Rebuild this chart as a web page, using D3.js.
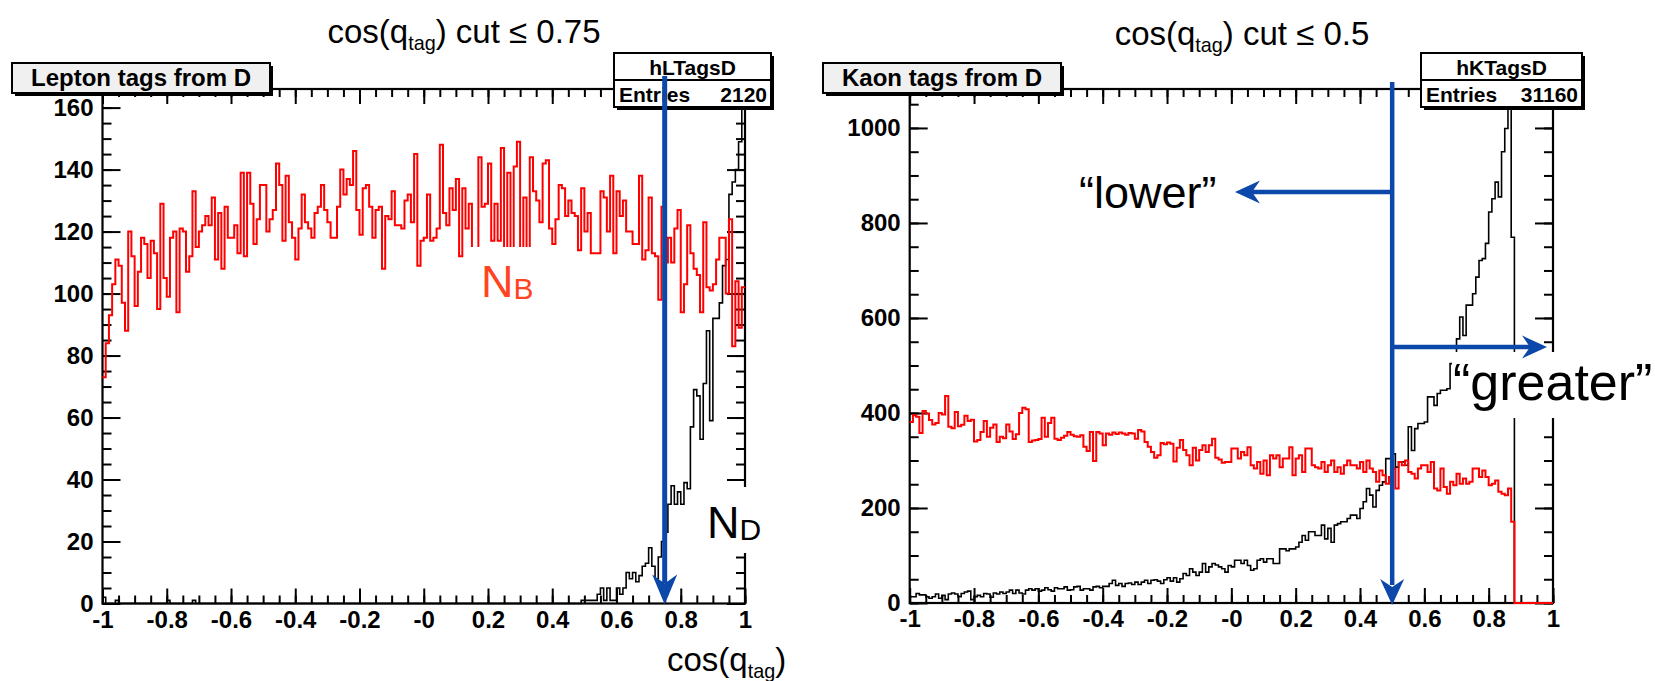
<!DOCTYPE html>
<html>
<head>
<meta charset="utf-8">
<script src="https://cdn.jsdelivr.net/npm/d3@7"></script>
<style>
  body { margin: 0; background: #fff; }
  svg text { font-family: "Liberation Sans", Arial, Helvetica, sans-serif; }
</style>
</head>
<body>
<div id="chart"></div>
<script>
var svgWidth = 1655;
var svgHeight = 681;

// 200 bins of width 0.01 on [-1, 1]
var binLow = -1;
var binWidth = 0.01;

var xTickValues = [-1, -0.8, -0.6, -0.4, -0.2, 0, 0.2, 0.4, 0.6, 0.8, 1];
var xTickLabels = ["-1", "-0.8", "-0.6", "-0.4", "-0.2", "-0", "0.2", "0.4", "0.6", "0.8", "1"];
var leptonYTicks = [0, 20, 40, 60, 80, 100, 120, 140, 160];
var kaonYTicks = [0, 200, 400, 600, 800, 1000];

// lepton tags: background from B (red)
var leptonB = [
  73, 84, 93, 103, 111, 109, 97, 88, 120, 112,
  96, 107, 118, 116, 105, 117, 113, 95, 129, 105,
  99, 118, 120, 94, 121, 120, 107, 112, 133, 115,
  120, 122, 125, 122, 131, 111, 126, 108, 128, 118,
  118, 122, 113, 139, 112, 139, 129, 116, 124, 135,
  135, 120, 124, 127, 142, 135, 117, 138, 123, 118,
  111, 121, 132, 123, 121, 118, 126, 128,
  135, 127, 123, 118, 118, 128, 140, 132, 137, 135, 146,
  127, 119, 134, 135, 128, 118, 127, 128, 108, 125,
  124, 133, 122, 122, 121, 130, 132, 123, 145, 109,
  117, 118, 132, 117, 118, 121, 148, 126, 122, 134,
  127, 137, 112, 134, 121, 129, 110, 110, 144, 128,
  129, 142, 117, 129, 117, 147, 112, 139, 112, 141,
  149, 112, 131, 112, 144, 133, 130,
  123, 142, 143, 121, 116, 124, 135, 134, 125, 130,
  126, 125, 114, 134, 120, 126, 113, 113, 113, 133,
  131, 120, 138, 113, 133, 125, 130, 120, 120, 116,
  116, 138, 111, 114, 131, 113, 112, 98, 128, 110,
  118, 110, 121, 127, 94, 103, 122, 113, 108, 106,
  94, 123, 102, 101, 103, 111, 118, 118, 100, 124,
  83, 104, 89, 102
];

// lepton tags: from D (black)
var leptonD = [
  2, 0, 0, 0, 1, 0, 0, 0, 0, 0, 0, 0, 0, 0, 0, 0, 0, 0, 0, 0,
  1, 0, 0, 0, 0, 0, 0, 0, 1, 0, 0, 0, 0, 0, 0, 0, 0, 0, 0, 0,
  0, 0, 0, 0, 0, 0, 0, 0, 0, 0, 0, 0, 0, 0, 0, 0, 0, 0, 0, 0,
  0, 0, 0, 0, 0, 0, 0, 0, 0, 0, 0, 0, 0, 0, 0, 0, 0, 0, 0, 0,
  0, 0, 0, 0, 0, 0, 0, 0, 0, 0, 0, 0, 0, 0, 0, 0, 0, 0, 0, 0,
  0, 0, 0, 0, 0, 0, 0, 0, 0, 0, 0, 0, 0, 0, 0, 0, 0, 0, 0, 0,
  0, 0, 0, 0, 0, 0, 0, 0, 0, 0, 0, 0, 0, 0, 0, 0, 0, 0, 0, 0,
  0, 0, 0, 0, 0, 0, 0, 0, 0, 1,
  1, 1, 1, 1, 3, 5, 1, 5, 1, 1,
  5, 3, 5, 10, 8, 10, 7, 9, 12, 13,
  18, 12, 8, 15, 20, 23, 32, 38, 32, 36,
  32, 39, 37, 57, 69, 67, 53, 71, 88, 59,
  92, 92, 97, 109, 111, 132, 136, 140, 149, 160
];

// kaon tags: background from B (red)
var kaonB = [
  381, 395, 392, 358, 404, 399, 385, 376, 379, 400,
  397, 436, 371, 368, 402, 372, 375, 394, 383, 386,
  340, 343, 360, 383, 350, 369, 376, 339, 350, 347,
  376, 361, 345, 355, 400, 411, 408, 339, 342, 343,
  345, 390, 350, 379, 390, 346, 343, 348, 352, 360,
  354, 351, 350, 353, 329, 320, 360, 299, 360, 357,
  332, 357, 354, 359, 356, 359, 357, 354, 358, 357,
  346, 364, 361, 339, 329, 318, 306, 311, 337, 334,
  338, 335, 298, 327, 343, 322, 311, 290, 327, 300,
  322, 332, 318, 332, 346, 306, 302, 295,
  297, 297, 325, 325, 304, 318, 311, 328, 290, 283,
  297, 272, 300, 269, 311, 304, 311, 286, 304, 304, 328,
  269, 304, 311, 276, 325, 325, 290, 286, 283, 297,
  276, 290, 300, 276, 286, 272, 290, 300, 290, 290, 283,
  297, 276, 300, 283, 276, 255, 279, 269, 251, 265,
  283, 241, 297, 290, 300, 276, 272, 262, 283, 290, 290,
  276, 297, 241, 237, 283, 244, 230, 255, 248, 272,
  251, 262, 251, 255, 283, 283, 265, 279, 265, 248, 251,
  258, 234, 230, 227, 241, 171,
  0, 0, 0, 0, 0, 0, 0, 0, 0, 0, 0, 0
];

// kaon tags: from D (black)
var kaonD = [
  13, 13, 20, 17, 17, 13, 10, 13, 19, 10,
  16, 7, 19, 21, 19, 13, 20, 23, 25, 7,
  13, 16, 13, 20, 19, 12, 21, 19, 23, 20,
  23, 27, 20, 27, 21, 19, 27, 30, 27, 30,
  25, 27, 32, 28, 25, 32, 30, 30, 34, 27,
  28, 34, 35, 27, 30, 30, 27, 34, 35, 32,
  35, 35, 41, 48, 37, 41, 35, 41, 42, 39,
  44, 39, 44, 48, 41, 48, 49, 46, 41, 49,
  53, 46, 53, 44, 51, 62, 58, 72, 65, 58,
  65, 83, 65, 76, 83, 80, 76, 72,
  65, 79, 76, 90, 90, 83, 90, 79, 69, 72,
  90, 93, 86, 93, 93, 83, 83, 114, 114, 110,
  114, 114, 118, 128, 142, 132, 150, 150, 142, 142,
  164, 135, 157, 128, 164, 167, 171, 171, 178, 185,
  185, 178, 199, 213, 241, 227, 202, 237, 248, 255,
  304, 304, 314, 286, 297, 297, 290, 371, 321, 367,
  378, 378, 381, 434, 434, 416, 441, 448, 448, 451,
  504, 493, 556, 602, 563, 627, 627, 651, 686, 721,
  725, 757, 823, 851, 886, 855, 950, 999, 1200, 770,
  0, 0, 0, 0, 0, 0, 0, 0, 0, 0, 0, 0
];

var blue = "#0c47aa";
var nbColor = "#ff4422";

var panels = [
  {
    id: "lep", left: 102.5, right: 745, top: 89, bottom: 603.5,
    yMax: 166, yTicks: leptonYTicks, yMinor: 5,
    red: leptonB, black: leptonD,
    name: "Lepton tags from D", nameBox: [12, 63, 258, 30],
    stat: "hLTagsD", entries: "2120", statBox: [614, 53, 157, 54],
    titleX: 464, titleY: 43, cut: "0.75"
  },
  {
    id: "kaon", left: 909.7, right: 1553, top: 89, bottom: 603,
    yMax: 1082, yTicks: kaonYTicks, yMinor: 50,
    red: kaonB, black: kaonD,
    name: "Kaon tags from D", nameBox: [823, 63, 238, 30],
    stat: "hKTagsD", entries: "31160", statBox: [1421, 53, 161, 54],
    titleX: 1242, titleY: 45, cut: "0.5"
  }
];

var svg = d3.select("#chart")
  .append("svg")
  .attr("width", svgWidth)
  .attr("height", svgHeight);

svg.append("rect")
  .attr("width", svgWidth)
  .attr("height", svgHeight)
  .attr("fill", "#fff");

// histogram outline as a step line, ROOT style
function stepPath(values, x, y) {
  var d = "M" + x(binLow) + "," + y(values[0]);
  values.forEach(function(v, i) {
    d += "V" + y(v) + "H" + x(binLow + (i + 1) * binWidth);
  });
  return d;
}

function styleAxis(sel, showText) {
  sel.select(".domain").remove();
  sel.selectAll(".tick line").attr("stroke", "#000").attr("stroke-width", 2);
  sel.selectAll(".tick text")
    .attr("font-family", "'Liberation Sans', Arial, sans-serif")
    .attr("font-size", 24)
    .attr("font-weight", "bold")
    .attr("fill", "#000");
  if (!showText) sel.selectAll(".tick text").remove();
}

// text with subscript: cos(q_tag) ...
function cosText(sel, x, y, size, rest, anchor) {
  var t = sel.append("text")
    .attr("x", x)
    .attr("y", y)
    .attr("font-size", size)
    .attr("text-anchor", anchor)
    .attr("fill", "#000");
  t.append("tspan").text("cos(q");
  t.append("tspan").attr("font-size", size * 0.6).attr("dy", size * 0.2).text("tag");
  t.append("tspan").attr("dy", -size * 0.2).text(")" + rest);
  return t;
}

function arrowHead(g, tx, ty, dir, len, half, notch) {
  // dir: unit vector pointing where the arrow points
  var px = -dir[1], py = dir[0];
  var bx = tx - dir[0] * len, by = ty - dir[1] * len;
  var nx = tx - dir[0] * (len - notch), ny = ty - dir[1] * (len - notch);
  g.append("path")
    .attr("d", "M" + tx + "," + ty +
      "L" + (bx + px * half) + "," + (by + py * half) +
      "L" + nx + "," + ny +
      "L" + (bx - px * half) + "," + (by - py * half) + "Z")
    .attr("fill", blue);
}

panels.forEach(function(p) {
  var x = d3.scaleLinear().domain([-1, 1]).range([p.left, p.right]);
  var y = d3.scaleLinear().domain([0, p.yMax]).range([p.bottom, p.top]);
  var g = svg.append("g");

  // axes, ticks inside the frame on all four sides
  var xMinor = d3.range(-1, 1.001, 0.05);
  var yMinor = d3.range(0, p.yMax, p.yMinor);

  g.append("g").attr("transform", "translate(0," + p.bottom + ")")
    .call(d3.axisBottom(x).tickValues(xMinor).tickSize(-8).tickFormat(""))
    .call(styleAxis, false);
  g.append("g").attr("transform", "translate(0," + p.bottom + ")")
    .call(d3.axisBottom(x).tickValues(xTickValues).tickSize(-15).tickPadding(7)
      .tickFormat(function(d, i) { return xTickLabels[i]; }))
    .call(styleAxis, true);
  g.append("g").attr("transform", "translate(0," + p.top + ")")
    .call(d3.axisTop(x).tickValues(xMinor).tickSize(-8).tickFormat(""))
    .call(styleAxis, false);
  g.append("g").attr("transform", "translate(0," + p.top + ")")
    .call(d3.axisTop(x).tickValues(xTickValues).tickSize(-15).tickFormat(""))
    .call(styleAxis, false);

  g.append("g").attr("transform", "translate(" + p.left + ",0)")
    .call(d3.axisLeft(y).tickValues(yMinor).tickSize(-9).tickFormat(""))
    .call(styleAxis, false);
  g.append("g").attr("transform", "translate(" + p.left + ",0)")
    .call(d3.axisLeft(y).tickValues(p.yTicks).tickSize(-18).tickPadding(9)
      .tickFormat(d3.format("d")))
    .call(styleAxis, true);
  g.append("g").attr("transform", "translate(" + p.right + ",0)")
    .call(d3.axisRight(y).tickValues(yMinor).tickSize(-9).tickFormat(""))
    .call(styleAxis, false);
  g.append("g").attr("transform", "translate(" + p.right + ",0)")
    .call(d3.axisRight(y).tickValues(p.yTicks).tickSize(-18).tickFormat(""))
    .call(styleAxis, false);

  g.append("rect")
    .attr("x", p.left)
    .attr("y", p.top)
    .attr("width", p.right - p.left)
    .attr("height", p.bottom - p.top)
    .attr("fill", "none")
    .attr("stroke", "#000")
    .attr("stroke-width", 2.2);

  // histograms drawn over the frame, clipped to it
  g.append("clipPath").attr("id", "clip-" + p.id)
    .append("rect")
    .attr("x", p.left - 2)
    .attr("y", p.top)
    .attr("width", p.right - p.left + 4)
    .attr("height", p.bottom - p.top + 3);

  g.append("path")
    .attr("d", stepPath(p.black, x, y))
    .attr("fill", "none")
    .attr("stroke", "#000")
    .attr("stroke-width", 1.6)
    .attr("clip-path", "url(#clip-" + p.id + ")");

  g.append("path")
    .attr("d", stepPath(p.red, x, y))
    .attr("fill", "none")
    .attr("stroke", "#ff0000")
    .attr("stroke-width", 2)
    .attr("clip-path", "url(#clip-" + p.id + ")");

  // histogram name box (top left)
  var nb = p.nameBox;
  g.append("rect").attr("x", nb[0] + 3).attr("y", nb[1] + 3)
    .attr("width", nb[2]).attr("height", nb[3]).attr("fill", "#000");
  g.append("rect").attr("x", nb[0]).attr("y", nb[1])
    .attr("width", nb[2]).attr("height", nb[3])
    .attr("fill", "#f0f0f0").attr("stroke", "#000").attr("stroke-width", 2);
  g.append("text")
    .attr("x", nb[0] + nb[2] / 2)
    .attr("y", nb[1] + 23)
    .attr("text-anchor", "middle")
    .attr("font-size", 24)
    .attr("font-weight", "bold")
    .text(p.name);

  // stats box (top right)
  var sb = p.statBox;
  g.append("rect").attr("x", sb[0] + 3).attr("y", sb[1] + 3)
    .attr("width", sb[2]).attr("height", sb[3]).attr("fill", "#000");
  g.append("rect").attr("x", sb[0]).attr("y", sb[1])
    .attr("width", sb[2]).attr("height", sb[3])
    .attr("fill", "#fff").attr("stroke", "#000").attr("stroke-width", 2);
  g.append("line")
    .attr("x1", sb[0]).attr("x2", sb[0] + sb[2])
    .attr("y1", sb[1] + sb[3] / 2).attr("y2", sb[1] + sb[3] / 2)
    .attr("stroke", "#000").attr("stroke-width", 2);
  g.append("text")
    .attr("x", sb[0] + sb[2] / 2).attr("y", sb[1] + 22)
    .attr("text-anchor", "middle")
    .attr("font-size", 21).attr("font-weight", "bold")
    .text(p.stat);
  g.append("text")
    .attr("x", sb[0] + 5).attr("y", sb[1] + 49)
    .attr("font-size", 21).attr("font-weight", "bold")
    .text("Entries");
  g.append("text")
    .attr("x", sb[0] + sb[2] - 4).attr("y", sb[1] + 49)
    .attr("text-anchor", "end")
    .attr("font-size", 21).attr("font-weight", "bold")
    .text(p.entries);

  cosText(svg, p.titleX, p.titleY, 33, " cut \u2264 " + p.cut, "middle");

  p.x = x;
  p.y = y;
});

// ----- annotations, left panel -----
var pl = panels[0];
svg.append("rect").attr("x", 466).attr("y", 247).attr("width", 76).attr("height", 58).attr("fill", "#fff");
var nbText = svg.append("text").attr("x", 481).attr("y", 297).attr("fill", nbColor).attr("font-size", 45);
nbText.append("tspan").text("N");
nbText.append("tspan").attr("font-size", 30).attr("dy", 2).text("B");

svg.append("rect").attr("x", 700).attr("y", 487).attr("width", 70).attr("height", 66).attr("fill", "#fff");
var ndText = svg.append("text").attr("x", 707).attr("y", 538).attr("fill", "#000").attr("font-size", 45);
ndText.append("tspan").text("N");
ndText.append("tspan").attr("font-size", 30).attr("dy", 2).text("D");

var cutL = pl.x(0.75);
svg.append("line")
  .attr("x1", cutL).attr("x2", cutL)
  .attr("y1", 76).attr("y2", pl.bottom - 20)
  .attr("stroke", blue).attr("stroke-width", 5);
arrowHead(svg, cutL, pl.bottom + 1, [0, 1], 30, 12.5, 9);

cosText(svg, 667, 671, 33, "", "start");

// ----- annotations, right panel -----
var pr = panels[1];
var cutR = pr.x(0.5);

svg.append("rect").attr("x", 1452).attr("y", 352).attr("width", 203).attr("height", 66).attr("fill", "#fff");

svg.append("line")
  .attr("x1", cutR).attr("x2", cutR)
  .attr("y1", 82).attr("y2", pr.bottom - 18)
  .attr("stroke", blue).attr("stroke-width", 4.5);
arrowHead(svg, cutR, pr.bottom + 2, [0, 1], 26, 12, 8);

svg.append("line")
  .attr("x1", cutR).attr("x2", 1252)
  .attr("y1", 192).attr("y2", 192)
  .attr("stroke", blue).attr("stroke-width", 4.5);
arrowHead(svg, 1235, 192, [-1, 0], 25, 11.5, 8);

svg.append("line")
  .attr("x1", cutR).attr("x2", 1530)
  .attr("y1", 347).attr("y2", 347)
  .attr("stroke", blue).attr("stroke-width", 4.5);
arrowHead(svg, 1547, 347, [1, 0], 25, 11.5, 8);

svg.append("text").attr("x", 1079).attr("y", 208)
  .attr("font-size", 45).attr("fill", "#000")
  .text("\u201Clower\u201D");
svg.append("text").attr("x", 1453).attr("y", 400)
  .attr("font-size", 52).attr("fill", "#000")
  .text("\u201Cgreater\u201D");
</script>
</body>
</html>
